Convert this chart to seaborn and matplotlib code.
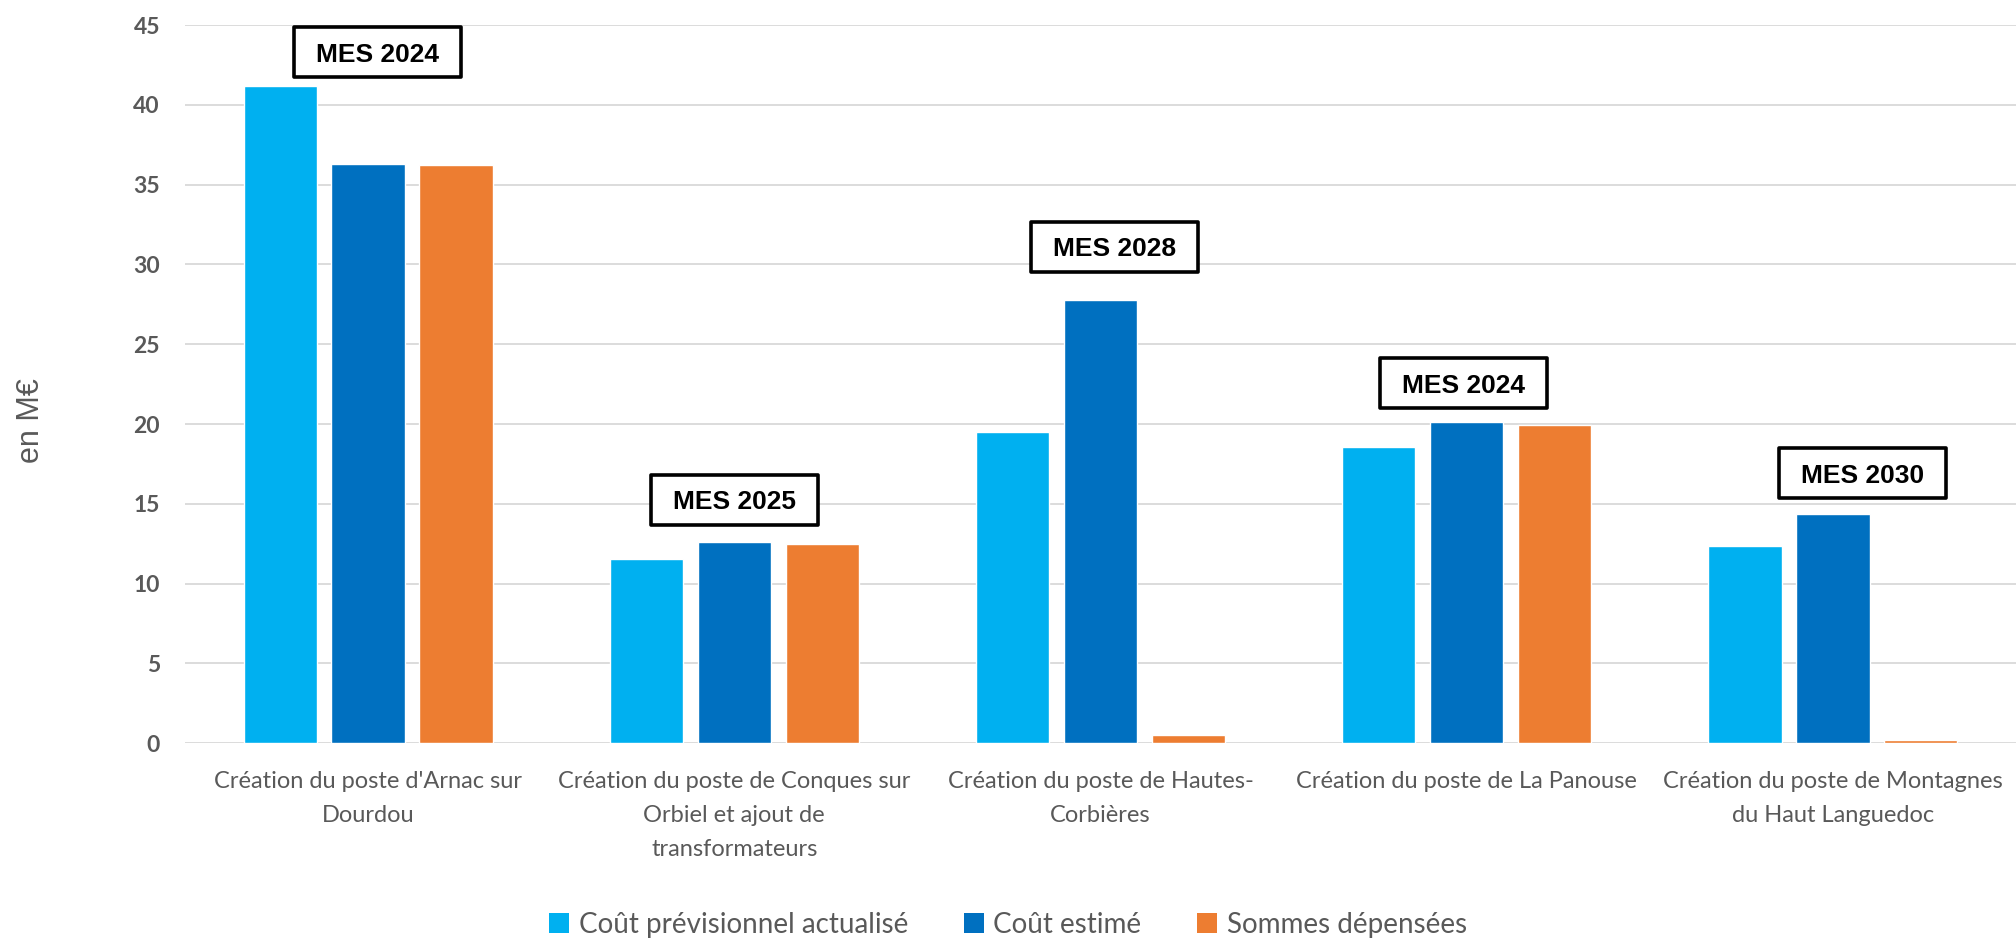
import matplotlib
matplotlib.use("Agg")
import matplotlib.pyplot as plt
import seaborn as sns
import pandas as pd
from matplotlib.patches import Rectangle, Patch

# ---------------- data ----------------
categories = [
    "Création du poste d'Arnac sur Dourdou",
    "Création du poste de Conques sur Orbiel et ajout de transformateurs",
    "Création du poste de Hautes-Corbières",
    "Création du poste de La Panouse",
    "Création du poste de Montagnes du Haut Languedoc",
]
tick_labels = [
    "Création du poste d'Arnac sur\nDourdou",
    "Création du poste de Conques sur\nOrbiel et ajout de\ntransformateurs",
    "Création du poste de Hautes-\nCorbières",
    "Création du poste de La Panouse",
    "Création du poste de Montagnes\ndu Haut Languedoc",
]
series = ["Coût prévisionnel actualisé", "Coût estimé", "Sommes dépensées"]
cout_previsionnel = [41.2, 11.55, 19.5, 18.55, 12.37]
cout_estime = [36.28, 12.6, 27.8, 20.13, 14.36]
sommes_depensees = [36.2, 12.48, 0.53, 19.96, 0.23]
mes_labels = ["MES 2024", "MES 2025", "MES 2028", "MES 2024", "MES 2030"]
y_ticks = list(range(0, 50, 5))

# ---------------- style ----------------
colors = ["#00B0F0", "#0070C0", "#ED7D31"]
grey = "#595959"
box_dx = [0.025, 0.0, 0.038, -0.01, 0.08]
box_y = [43.3, 15.27, 31.1, 22.57, 16.93]

rows = []
for name, vals in zip(series, [cout_previsionnel, cout_estime, sommes_depensees]):
    for cat, v in zip(categories, vals):
        rows.append({"Projet": cat, "Série": name, "Valeur": v})
df = pd.DataFrame(rows)

sns.set_theme(style="white")
plt.rcParams["font.family"] = ["Lato", "DejaVu Sans"]

W, H = 2016, 941
fig = plt.figure(figsize=(W / 100, H / 100), dpi=100)
ax = fig.add_axes([185 / W, (H - 743.3) / H, (W - 185) / W, (743.3 - 25) / H])

sns.barplot(
    data=df, x="Projet", y="Valeur", hue="Série",
    order=categories, hue_order=series, palette=colors,
    width=0.72, gap=0.1667, saturation=1, errorbar=None,
    legend=False, ax=ax, zorder=3,
)

ax.set_xlim(-0.5, 4.5)
ax.set_ylim(0, 45)
ax.set_yticks(y_ticks)
ax.set_yticklabels([str(t) for t in y_ticks], fontsize=16.5, fontweight="bold", color=grey)
ax.set_xticks(range(len(categories)))
ax.set_xticklabels(tick_labels, fontsize=17, color=grey, linespacing=1.75)
ax.tick_params(axis="x", length=0, pad=20)
ax.tick_params(axis="y", length=0, pad=18)
ax.set_xlabel("")
ax.set_ylabel("")
for s in ax.spines.values():
    s.set_visible(False)
ax.yaxis.grid(True, color="#D9D9D9", lw=1.3)
ax.set_axisbelow(True)

# annotation boxes
bw, bh = 0.456, 3.13
for i, lab in enumerate(mes_labels):
    cx = i + box_dx[i]
    cy = box_y[i]
    ax.add_patch(Rectangle((cx - bw / 2, cy - bh / 2), bw, bh, facecolor="white",
                           edgecolor="black", lw=2.6, zorder=5, clip_on=False,
                           joinstyle="round"))
    ax.text(cx, cy, lab, ha="center", va="center_baseline", fontsize=19,
            fontweight="bold", family=["Liberation Sans", "DejaVu Sans"],
            color="black", zorder=6)

fig.text(31 / W, (H - 421) / H, "en M€", rotation=90, ha="center", va="center",
         fontsize=22, color=grey, family=["Liberation Sans", "DejaVu Sans"])

handles = [Patch(facecolor=c, edgecolor="none") for c in colors]
fig.legend(handles, series, loc="center", bbox_to_anchor=(0.5, (H - 925) / H),
           ncol=3, frameon=False, fontsize=20, handlelength=0.72, handleheight=0.72,
           handletextpad=0.35, columnspacing=2.0, labelcolor=grey)

fig.savefig("out.png", dpi=100)
